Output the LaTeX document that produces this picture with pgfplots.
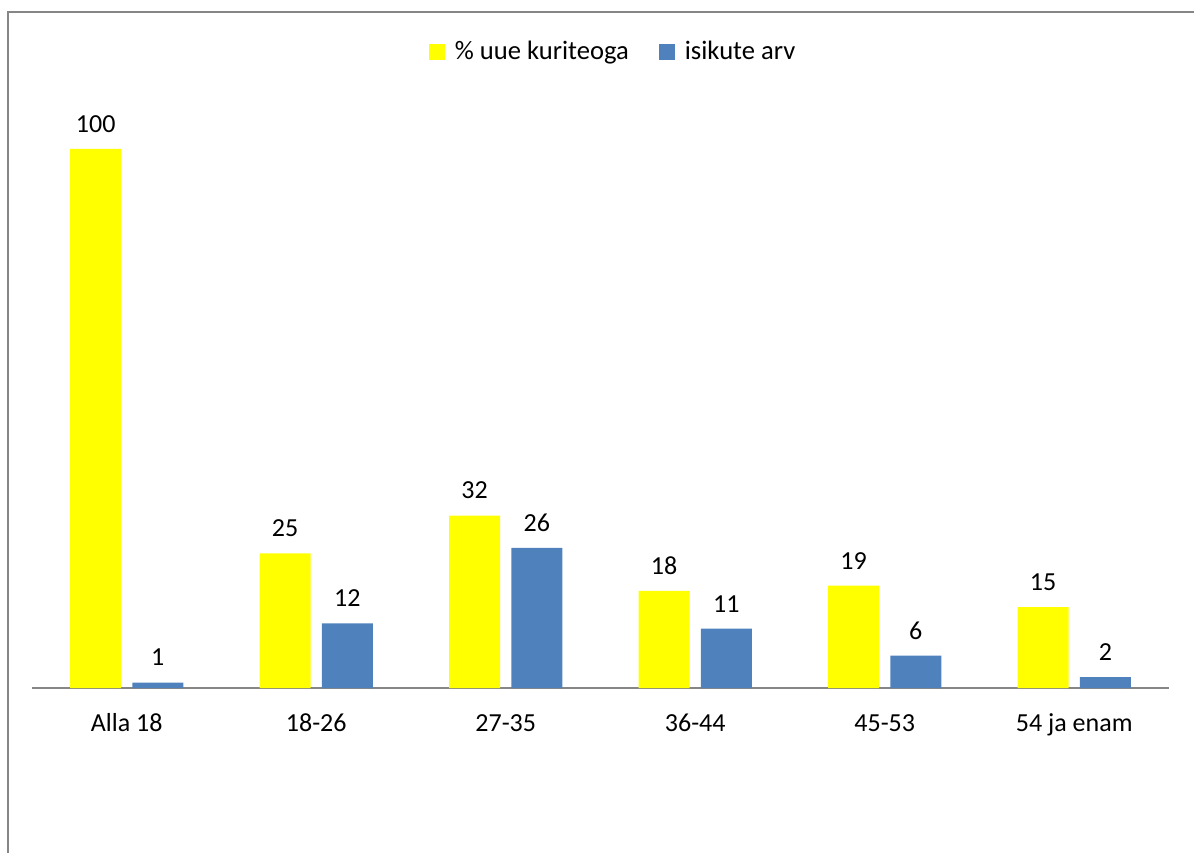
\documentclass[border=0pt]{standalone}
\usepackage{pgfplots}
\pgfplotsset{compat=1.18}
\usepackage{fontspec}
\setmainfont{Carlito}
\definecolor{ybar}{RGB}{255,255,0}
\definecolor{bbar}{RGB}{79,129,189}
\definecolor{frame}{RGB}{134,134,134}
\begin{document}
\begin{tikzpicture}
\path[use as bounding box] (0,0) rectangle (597pt,426pt);
\draw[frame, line width=1.1pt] (4pt,-2pt) -- (4pt,420pt) -- (600pt,420pt);
\begin{axis}[
  at={(16pt,82pt)}, anchor=south west,
  scale only axis, width=568.5pt, height=296.45pt,
  xmin=-0.5, xmax=5.5, ymin=0, ymax=110,
  axis y line=none, axis x line*=bottom,
  x axis line style={frame, line width=0.6pt, -},
  xtick={0,1,2,3,4,5}, major tick length=0pt,
  xticklabels={Alla 18,18-26,27-35,36-44,45-53,54 ja enam},
  xticklabel style={font=\fontsize{13pt}{15pt}\selectfont, yshift=-9pt, text height=9pt, text depth=3pt},
  /pgf/number format/assume math mode=true,
  nodes near coords,
  every node near coord/.append style={font=\fontsize{13pt}{15pt}\selectfont, anchor=center, yshift=12.5pt, black},
  legend columns=2,
  legend style={at={(0.512,1.0725)}, anchor=center, draw=none, font=\fontsize{13.3pt}{15pt}\selectfont,
    /tikz/every odd column/.append style={column sep=3pt},
    /tikz/every even column/.append style={column sep=13pt}},
  legend image code/.code={\fill[#1] (0pt,-4pt) rectangle (8pt,4pt);},
  clip=false,
]
\addplot[ybar, bar width=0.269, bar shift=-0.164, fill=ybar, draw=none,
  every node near coord/.append style={xshift=-15.54pt}] coordinates {(0,100) (1,25) (2,32) (3,18) (4,19) (5,15)};
\addlegendentry{\% uue kuriteoga}
\addplot[ybar, bar width=0.269, bar shift=0.164, fill=bbar, draw=none,
  every node near coord/.append style={xshift=15.54pt}] coordinates {(0,1) (1,12) (2,26) (3,11) (4,6) (5,2)};
\addlegendentry{isikute arv}
\end{axis}
\end{tikzpicture}
\end{document}
